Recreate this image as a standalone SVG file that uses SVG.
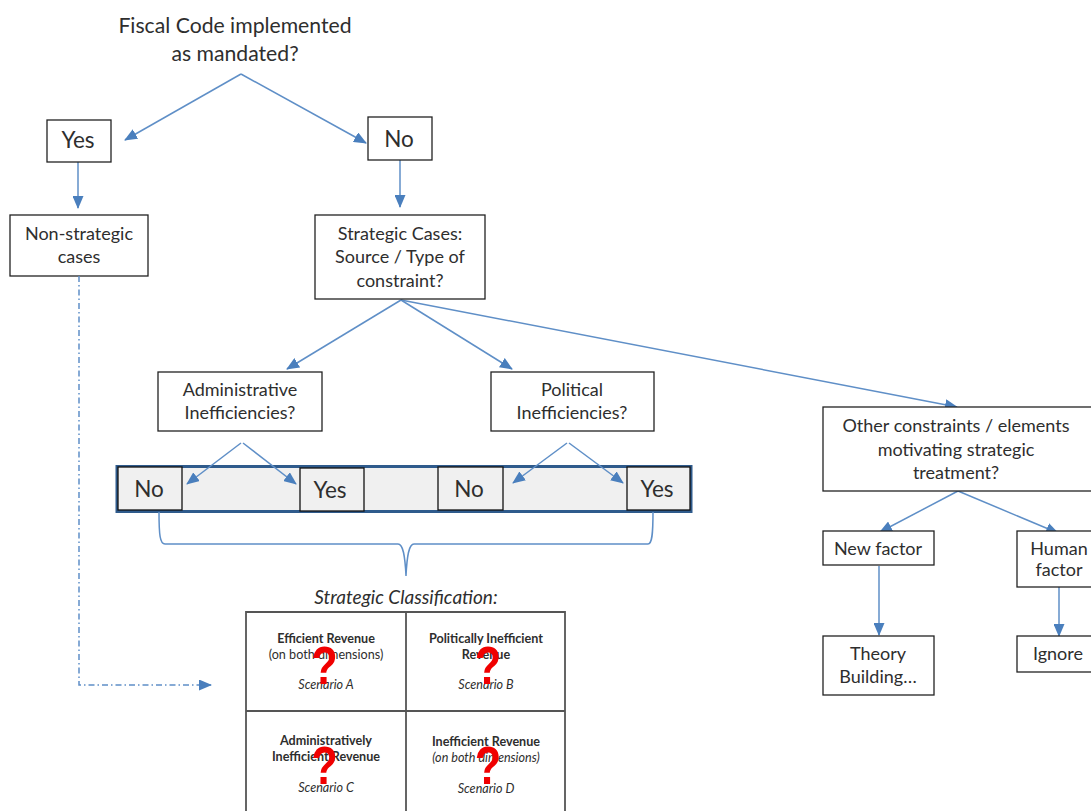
<svg xmlns="http://www.w3.org/2000/svg" width="1091" height="811" viewBox="0 0 1091 811">
<style>
text{font-family:"Lato","Carlito","Liberation Sans",sans-serif;fill:#2e2e2e;text-anchor:middle}
.box{fill:#fff;stroke:#222;stroke-width:1.3}
.g{fill:#f0f0f0;stroke:#111;stroke-width:1.3}
.big{font-size:22.500px}
.med{font-size:18px}
.top{font-size:21.200px}
.sm{font-size:12.600px}
.b{font-weight:700}
.i{font-style:italic}
.conn{fill:none;stroke:#5f8fc7;stroke-width:1.5}
.grid{fill:none;stroke:#555;stroke-width:1.8}
.q{font-family:"Liberation Sans",sans-serif;font-weight:700;font-size:54px;fill:#f00000}
</style>
<defs>
<marker id="a" markerWidth="13" markerHeight="11" refX="12" refY="5.500" orient="auto" markerUnits="userSpaceOnUse"><path d="M0 0L13 5.500L0 11Z" fill="#4a7fbd"/></marker>
</defs>
<rect width="1091" height="811" fill="#fff"/>
<g id="title">
<text class="top" x="235" y="33">Fiscal Code implemented</text>
<text class="top" x="235" y="61">as mandated?</text>
</g>
<g id="band"><rect x="117" y="466.500" width="574" height="45" fill="#f0f0f0" stroke="#2f5b8c" stroke-width="3"/></g>
<g id="connectors">
<path class="conn" marker-end="url(#a)" d="M241 74L125 140"/>
<path class="conn" marker-end="url(#a)" d="M241 74L366 143"/>
<path class="conn" marker-end="url(#a)" d="M78 162V208"/>
<path class="conn" marker-end="url(#a)" d="M400 160V207"/>
<path class="conn" marker-end="url(#a)" d="M401 300L287 369"/>
<path class="conn" marker-end="url(#a)" d="M401 300L512 369"/>
<path class="conn" marker-end="url(#a)" d="M401 300L957 407"/>
<path class="conn" marker-end="url(#a)" d="M958 491L880 532"/>
<path class="conn" marker-end="url(#a)" d="M958 491L1058 533"/>
<path class="conn" marker-end="url(#a)" d="M879 566V635"/>
<path class="conn" marker-end="url(#a)" d="M1059 587V636"/>
</g>
<g id="yes"><rect class="box" x="47" y="120" width="64" height="42"/><text class="big" x="78" y="148">Yes</text></g>
<g id="no"><rect class="box" x="368" y="117" width="64" height="43"/><text class="big" x="399" y="147">No</text></g>
<g id="non-strategic"><rect class="box" x="10" y="215" width="138" height="61"/><text class="med" x="79" y="240">Non-strategic</text><text class="med" x="79" y="263">cases</text></g>
<g id="strategic"><rect class="box" x="315" y="215" width="170" height="84"/><text class="med" x="400" y="240">Strategic Cases:</text><text class="med" x="400" y="263">Source / Type of</text><text class="med" x="400" y="287">constraint?</text></g>
<g id="admin"><rect class="box" x="158" y="372" width="164" height="59"/><text class="med" x="240" y="396">Administrative</text><text class="med" x="240" y="419">Inefficiencies?</text></g>
<g id="political"><rect class="box" x="491" y="372" width="163" height="59"/><text class="med" x="572" y="396">Political</text><text class="med" x="572" y="419">Inefficiencies?</text></g>
<g id="other"><rect class="box" x="823" y="407" width="270" height="84"/><text class="med" x="956" y="432">Other constraints / elements</text><text class="med" x="956" y="456">motivating strategic</text><text class="med" x="956" y="479">treatment?</text></g>
<g id="new-factor"><rect class="box" x="823" y="531" width="111" height="34"/><text class="med" x="878" y="555">New factor</text></g>
<g id="human-factor"><rect class="box" x="1017" y="531" width="76" height="56"/><text class="med" x="1059" y="555">Human</text><text class="med" x="1059" y="576">factor</text></g>
<g id="theory"><rect class="box" x="823" y="636" width="111" height="59"/><text class="med" x="878" y="660">Theory</text><text class="med" x="878" y="683">Building…</text></g>
<g id="ignore"><rect class="box" x="1017" y="636" width="76" height="36"/><text class="med" x="1058" y="660">Ignore</text></g>
<g id="no1"><rect class="g" x="118" y="467" width="64" height="43"/><text class="big" x="149" y="497">No</text></g>
<g id="yes1"><rect class="g" x="300" y="468" width="64" height="43"/><text class="big" x="330" y="498">Yes</text></g>
<g id="no2"><rect class="g" x="438" y="467" width="65" height="43"/><text class="big" x="469" y="497">No</text></g>
<g id="yes2"><rect class="g" x="627" y="467" width="63" height="43"/><text class="big" x="657" y="497">Yes</text></g>
<g id="connectors-lower">
<path class="conn" marker-end="url(#a)" d="M241 443L187 484"/>
<path class="conn" marker-end="url(#a)" d="M243 443L296 484"/>
<path class="conn" marker-end="url(#a)" d="M567 443L513 483"/>
<path class="conn" marker-end="url(#a)" d="M569 443L623 483"/>
<path class="conn" d="M159 512C159 535 160 544 165 544H398C403 544 405 555 406 576C407 555 409 544 414 544H648C652 544 653 535 653 512"/>
<path class="conn" marker-end="url(#a)" stroke-dasharray="6 3 1.500 3" d="M79 276V685H211"/>
</g>
<g id="classification">
<text class="med i" style="font-size:19px" x="406" y="604">Strategic Classification:</text>
<path class="grid" d="M246 811V612H565V811M406 612V811M246 711H565"/>
<text class="sm b" x="326" y="643">Efficient Revenue</text>
<text class="sm" x="326" y="659">(on both dimensions)</text>
<text class="sm i" x="326" y="689">Scenario A</text>
<text class="sm b" x="486" y="643">Politically Inefficient</text>
<text class="sm b" x="486" y="659">Revenue</text>
<text class="sm i" x="486" y="689">Scenario B</text>
<text class="sm b" x="326" y="745">Administratively</text>
<text class="sm b" x="326" y="761">Inefficient Revenue</text>
<text class="sm i" x="326" y="792">Scenario C</text>
<text class="sm b" x="486" y="746">Inefficient Revenue</text>
<text class="sm i" x="486" y="762">(on both dimensions)</text>
<text class="sm i" x="486" y="793">Scenario D</text>
<text class="q" transform="translate(324.500 684) scale(.8 1)">?</text>
<text class="q" transform="translate(488 684) scale(.8 1)">?</text>
<text class="q" transform="translate(324.500 784) scale(.8 1)">?</text>
<text class="q" transform="translate(488 784) scale(.8 1)">?</text>
</g>
</svg>
